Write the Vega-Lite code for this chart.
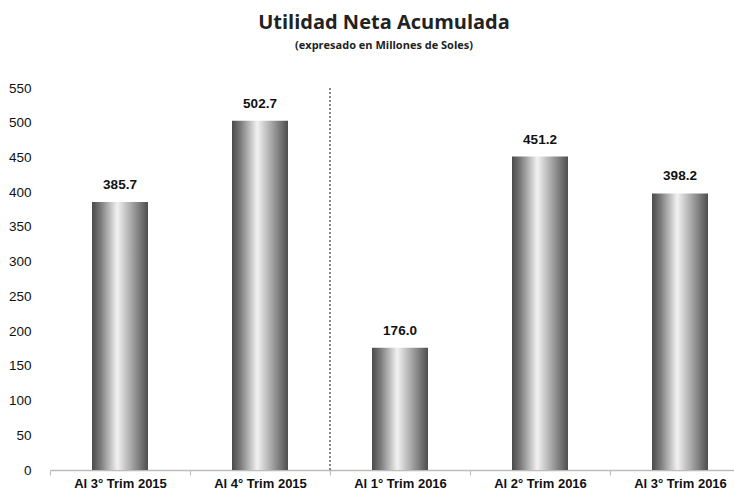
{
  "$schema": "https://vega.github.io/schema/vega-lite/v6.json",
  "autosize": {"type": "none"},
  "padding": {"left": 50, "top": 88, "right": 0, "bottom": 23},
  "width": 700,
  "height": 382,
  "background": "white",
  "title": {
    "text": "Utilidad Neta Acumulada",
    "subtitle": "(expresado en Millones de Soles)",
    "anchor": "middle",
    "frame": "group",
    "dx": -16,
    "offset": 30,
    "font": "Open Sans",
    "fontSize": 20,
    "fontWeight": "bold",
    "color": "#222",
    "subtitleFont": "Open Sans",
    "subtitleFontSize": 11,
    "subtitleFontWeight": "bold",
    "subtitleColor": "#222",
    "subtitlePadding": 7
  },
  "data": {
    "values": [
      {"periodo": "Al 3° Trim 2015", "utilidad": 385.7},
      {"periodo": "Al 4° Trim 2015", "utilidad": 502.7},
      {"periodo": "Al 1° Trim 2016", "utilidad": 176.0},
      {"periodo": "Al 2° Trim 2016", "utilidad": 451.2},
      {"periodo": "Al 3° Trim 2016", "utilidad": 398.2}
    ]
  },
  "encoding": {
    "x": {
      "field": "periodo",
      "type": "nominal",
      "sort": null,
      "scale": {"paddingInner": 0, "paddingOuter": 0},
      "axis": {
        "title": null,
        "labelAngle": 0,
        "labelFont": "Liberation Sans",
        "labelFontSize": 13,
        "labelFontWeight": "bold",
        "labelColor": "#111",
        "labelPadding": 2,
        "domainColor": "#bbb",
        "domainWidth": 1.5,
        "tickColor": "#bbb",
        "tickSize": 5,
        "tickBand": "extent"
      }
    },
    "y": {
      "field": "utilidad",
      "type": "quantitative",
      "scale": {"domain": [0, 550], "nice": false},
      "axis": {
        "title": null,
        "values": [0, 50, 100, 150, 200, 250, 300, 350, 400, 450, 500, 550],
        "labelOverlap": false,
        "labelFlush": false,
        "grid": false,
        "domain": false,
        "ticks": false,
        "labelPadding": 19,
        "labelFont": "Liberation Sans",
        "labelFontSize": 13.5,
        "labelColor": "#111"
      }
    }
  },
  "layer": [
    {
      "mark": {
        "type": "bar",
        "width": 56,
        "color": {
          "gradient": "linear",
          "x1": 0, "y1": 0, "x2": 1, "y2": 0,
          "stops": [
            {"offset": 0, "color": "#4a4a4a"},
            {"offset": 0.15, "color": "#7a7a7a"},
            {"offset": 0.45, "color": "#f2f2f2"},
            {"offset": 0.8, "color": "#8a8a8a"},
            {"offset": 1, "color": "#4e4e4e"}
          ]
        }
      }
    },
    {
      "mark": {
        "type": "text",
        "baseline": "bottom",
        "dy": -10,
        "font": "Liberation Sans",
        "fontSize": 13.5,
        "fontWeight": "bold",
        "color": "#111"
      },
      "encoding": {
        "text": {"field": "utilidad", "type": "quantitative", "format": ".1f"}
      }
    },
    {
      "mark": {"type": "rule", "color": "#888", "strokeWidth": 2, "strokeDash": [2, 2]},
      "encoding": {
        "x": {"datum": "Al 1° Trim 2016", "bandPosition": 0},
        "y": null
      }
    }
  ],
  "config": {"view": {"stroke": null}}
}
